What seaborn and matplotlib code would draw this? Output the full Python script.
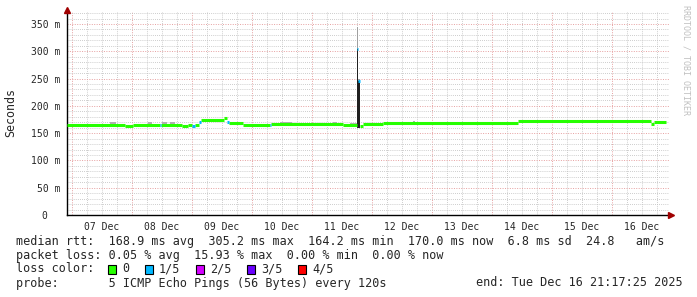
import numpy as np
import pandas as pd
import matplotlib
matplotlib.use("Agg")
import matplotlib.pyplot as plt
import seaborn as sns
from matplotlib.ticker import MultipleLocator

# ---------------- data (time in days since 07 Dec 00:00) ----------------
seg_start = [-0.083, 0.883, 1.017, 1.467, 1.483, 1.833, 1.933, 2.000, 2.050, 2.117,
             2.150, 2.533, 2.583, 2.617, 2.850, 3.300, 3.325, 4.517, 4.750, 4.775,
             4.800, 4.850, 5.183, 7.433, 9.650, 9.700]
seg_end = [0.883, 1.017, 1.467, 1.483, 1.833, 1.933, 2.000, 2.050, 2.117, 2.150,
           2.533, 2.583, 2.617, 2.850, 3.300, 3.325, 4.517, 4.750, 4.775, 4.800,
           4.850, 5.183, 7.433, 9.650, 9.700, 9.900]
seg_rtt = [165.0, 163.5, 165.0, 165.0, 165.0, 163.0, 165.0, 164.0, 165.0, 171.0,
           175.0, 177.5, 170.0, 168.0, 164.5, 165.0, 167.5, 165.5, 305.0, 245.0,
           163.5, 167.0, 169.0, 171.5, 167.0, 170.0]
seg_loss = [0, 0, 0, 1, 0, 0, 0, 1, 0, 1,
            0, 0, 1, 0, 0, 1, 0, 0, 1, 1,
            0, 0, 0, 0, 0, 0]

# smoke (spread of the pings) shown above the median
smoke_start = [0.633, 1.267, 1.500, 1.633, 3.467, 4.350, 4.633, 5.683, 7.500, 7.617, 8.517, 9.533]
smoke_end = [0.733, 1.333, 1.583, 1.717, 3.667, 4.417, 4.750, 5.717, 7.583, 7.667, 8.633, 9.633]
smoke_lo = [165.0, 165.0, 165.0, 165.0, 167.0, 167.0, 165.0, 169.0, 171.0, 171.0, 171.0, 171.0]
smoke_hi = [170.0, 170.0, 170.0, 170.0, 170.5, 170.0, 169.5, 172.5, 174.5, 174.0, 174.5, 174.5]

spike_start = [4.750, 4.775]
spike_end = [4.775, 4.800]
spike_lo = [160.0, 160.0]
spike_dark_hi = [305.0, 245.0]
spike_light_hi = [345.0, 250.0]

loss_labels = ["0", "1/5", "2/5", "3/5", "4/5"]
loss_colors = ["#26ff00", "#00b8ff", "#d400ff", "#6a00ff", "#ff0000"]

day_labels = ["07 Dec", "08 Dec", "09 Dec", "10 Dec", "11 Dec",
              "12 Dec", "13 Dec", "14 Dec", "15 Dec", "16 Dec"]
ytick_vals = [0, 50, 100, 150, 200, 250, 300, 350]
ytick_labels = ["0  ", "50 m", "100 m", "150 m", "200 m", "250 m", "300 m", "350 m"]

line_rtt = "median rtt:  168.9 ms avg  305.2 ms max  164.2 ms min  170.0 ms now  6.8 ms sd  24.8   am/s"
line_loss = "packet loss: 0.05 % avg  15.93 % max  0.00 % min  0.00 % now"
line_color = "loss color:"
line_probe = "probe:       5 ICMP Echo Pings (56 Bytes) every 120s"
line_end = "end: Tue Dec 16 21:17:25 2025"

# ---------------- figure ----------------
sns.set_style("white")
plt.rcParams["font.family"] = ["DejaVu Sans Mono", "DejaVu Sans"]

W, H = 697, 297
fig = plt.figure(figsize=(W / 100, H / 100), dpi=100)
fig.patch.set_facecolor("white")
ax = fig.add_axes([67 / W, 82 / H, 602 / W, 203 / H])
ax.set_facecolor("white")

# smoke
for s, e, lo, hi in zip(smoke_start, smoke_end, smoke_lo, smoke_hi):
    ax.fill_between([s, e], [lo, lo], [hi, hi], color="#b0b0b0", lw=0, zorder=2)
for s, e, lo, hi in zip(spike_start, spike_end, spike_lo, spike_light_hi):
    ax.fill_between([s, e], [lo, lo], [hi, hi], color="#a0a0a0", lw=0, zorder=2)
for s, e, lo, hi in zip(spike_start, spike_end, spike_lo, spike_dark_hi):
    ax.fill_between([s, e], [lo, lo], [hi, hi], color="#202020", lw=0, zorder=2)

# median rtt line, coloured by loss
rows = []
for i, (s, e, v, l) in enumerate(zip(seg_start, seg_end, seg_rtt, seg_loss)):
    rows.append({"t": s, "rtt": v, "loss": l, "seg": i})
    rows.append({"t": e, "rtt": v, "loss": l, "seg": i})
df = pd.DataFrame(rows)
palette = {i: c for i, c in enumerate(loss_colors)}
sns.lineplot(data=df, x="t", y="rtt", hue="loss", units="seg", estimator=None,
             palette=palette, sort=False, legend=False, lw=2.2,
             solid_capstyle="butt", ax=ax, zorder=3)

ax.set_xlim(-0.0833, 9.95)
ax.set_ylim(0, 372)
ax.set_xlabel("")
ax.set_ylabel("")

# grids
ax.xaxis.set_major_locator(MultipleLocator(1))
ax.xaxis.set_minor_locator(MultipleLocator(0.25))
ax.yaxis.set_major_locator(MultipleLocator(50))
ax.yaxis.set_minor_locator(MultipleLocator(10))
ax.grid(which="major", color="#e6a0a0", lw=0.7, ls=(0, (1, 1.5)))
ax.grid(which="minor", color="#bdbdbd", lw=0.6, ls=(0, (1, 1.5)))
ax.set_axisbelow(True)

ax.set_xticklabels([])
ax.tick_params(axis="x", which="major", length=2.5, width=0.8, color="black", direction="out")
ax.tick_params(axis="both", which="minor", length=0)
ax.set_yticks(ytick_vals)
ax.set_yticklabels(ytick_labels, fontsize=7, family="DejaVu Sans Mono")
ax.tick_params(axis="y", which="major", length=3, width=0.8, pad=2)

sec = ax.secondary_xaxis("bottom")
sec.set_xticks([i + 0.5 for i in range(len(day_labels))])
sec.set_xticklabels(day_labels, fontsize=7, family="DejaVu Sans Mono")
sec.tick_params(length=0, pad=5)
sec.spines["bottom"].set_visible(False)

for sp in ["top", "right"]:
    ax.spines[sp].set_visible(False)
for sp in ["left", "bottom"]:
    ax.spines[sp].set_color("black")
    ax.spines[sp].set_linewidth(1.0)

# axis arrows
ax.plot([0], [1.01], marker="^", ms=4.5, color="#a00000", transform=ax.transAxes, clip_on=False, zorder=5)
ax.plot([1.003], [0], marker=">", ms=4.5, color="#a00000", transform=ax.transAxes, clip_on=False, zorder=5)

# y label and watermark
fig.text(11 / W, 1 - 113 / H, "Seconds", rotation=90, ha="center", va="center", fontsize=8.4,
         family="DejaVu Sans Mono")
fig.text(686 / W, 1 - 60 / H, "RRDTOOL / TOBI OETIKER", rotation=270, ha="center", va="center",
         fontsize=6, color="#c0c0c0", family="DejaVu Sans Mono")

# legend / stats text
fs = 8.45
def t(x, y, s):
    fig.text(x / W, 1 - y / H, s, ha="left", va="center", fontsize=fs, family="DejaVu Sans Mono")

y1, y2, y3, y4 = 241, 255, 269, 283
t(16, y1, line_rtt)
t(16, y2, line_loss)
t(16, y3, line_color)
box_x = [108, 145, 196, 247, 298]
lab_x = [122, 159, 210, 261, 312]
for bx, lx, c, lab in zip(box_x, lab_x, loss_colors, loss_labels):
    fig.patches.append(plt.Rectangle((bx / W, 1 - (y3 + 4.5) / H), 8 / W, 9 / H,
                                     transform=fig.transFigure, facecolor=c,
                                     edgecolor="black", lw=0.8))
    t(lx, y3, lab)
t(16, y4, line_probe)
t(476, y4, line_end)

fig.savefig("out.png", dpi=100, facecolor="white")
